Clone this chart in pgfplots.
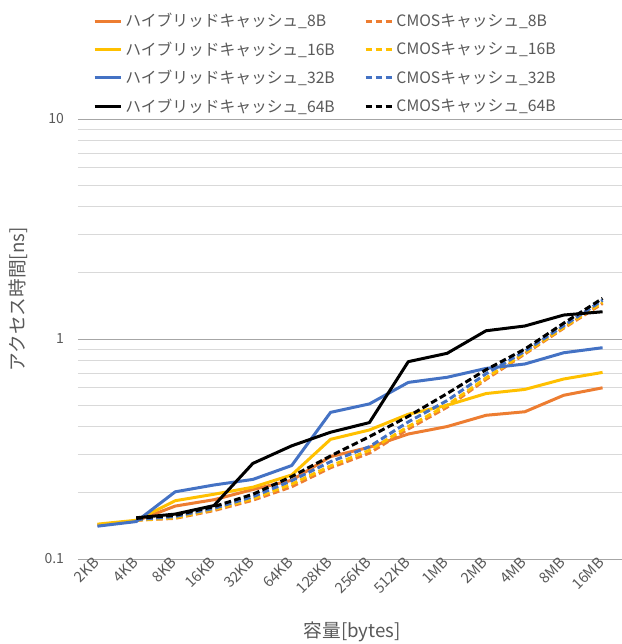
\documentclass[border=0pt]{standalone}
\usepackage{fontspec}
\setmainfont{Noto Sans CJK JP}
\usepackage{pgfplots}
\pgfplotsset{compat=1.18}
\usepackage{pgfplotstable}
\definecolor{cOr}{HTML}{ED7D31}
\definecolor{cYe}{HTML}{FFC000}
\definecolor{cBl}{HTML}{4472C4}
\definecolor{cBk}{HTML}{000000}
\definecolor{txt}{HTML}{595959}
\definecolor{gmaj}{HTML}{A6A6A6}
\definecolor{gmin}{HTML}{D9D9D9}

\pgfplotstableread{
x h8 c8 h16 c16 h32 c32 h64 c64
0 0.143 nan 0.144 nan 0.141 nan nan nan
1 0.149 0.150 0.150 0.150 0.148 0.151 0.154 0.153
2 0.174 0.153 0.184 0.154 0.202 0.156 0.160 0.158
3 0.186 0.166 0.197 0.168 0.217 0.170 0.175 0.173
4 0.207 0.185 0.212 0.188 0.230 0.192 0.272 0.197
5 0.228 0.213 0.241 0.219 0.266 0.227 0.327 0.237
6 0.292 0.260 0.350 0.265 0.464 0.277 0.377 0.294
7 0.322 0.303 0.386 0.312 0.507 0.324 0.417 0.360
8 0.370 0.390 0.455 0.400 0.635 0.420 0.789 0.445
9 0.400 0.490 0.500 0.500 0.670 0.525 0.861 0.565
10 0.450 0.655 0.565 0.665 0.735 0.695 1.090 0.725
11 0.467 0.855 0.590 0.865 0.770 0.880 1.146 0.900
12 0.555 1.120 0.658 1.130 0.866 1.150 1.285 1.180
13 0.600 1.450 0.705 1.470 0.913 1.500 1.330 1.530
}\data

\newcommand{\lw}[1]{\makebox[177pt][l]{#1}}

\begin{document}
\begin{tikzpicture}
\path[use as bounding box] (-58.5pt,-63.75pt) rectangle (408pt,419.25pt);
\begin{axis}[
  scale only axis, width=408pt, height=330pt,
  at={(0,0)}, anchor=south west,
  ymode=log, ymin=0.1, ymax=10,
  xmin=-0.5, xmax=13.5,
  xtick={0,...,13},
  xticklabels={2KB,4KB,8KB,16KB,32KB,64KB,128KB,256KB,512KB,1MB,2MB,4MB,8MB,16MB},
  ytick={0.1,1,10}, yticklabels={0.1,1,10},
  minor ytick={0.2,0.3,0.4,0.5,0.6,0.7,0.8,0.9,2,3,4,5,6,7,8,9},
  ymajorgrids, yminorgrids,
  major grid style={color=gmaj, line width=0.75pt},
  minor grid style={color=gmin, line width=0.75pt},
  axis line style={draw=none},
  major tick style={draw=none}, minor tick style={draw=none},
  xticklabel style={rotate=45, anchor=east, font=\fontsize{11}{13}\selectfont, text=txt, inner sep=1pt},
  yticklabel style={font=\fontsize{10.5}{12}\selectfont, text=txt, xshift=-7pt},
  xlabel={容量[bytes]}, ylabel={アクセス時間[ns]},
  xlabel style={font=\fontsize{14}{16}\selectfont, text=txt, at={(axis description cs:0.504,-0.166)}, anchor=center},
  ylabel style={font=\fontsize{14}{16}\selectfont, text=txt, at={(axis description cs:-0.11,0.59)}, anchor=center, rotate=0},
  legend columns=2,
  legend style={draw=none, fill=none, at={(axis description cs:0.02,1.253)}, anchor=north west,
    font=\fontsize{11.8}{13}\selectfont, text=txt, column sep=0pt, row sep=5.7pt,
    nodes={inner sep=2pt}},
  legend cell align=left,
  legend image code/.code={\draw[#1] (0pt,0pt) -- (20pt,0pt);},
  every axis plot/.append style={line width=2.25pt, line join=round},
  unbounded coords=jump,
]
\addplot[cOr, no markers] table[x=x,y=h8]{\data};
\addlegendentry{\lw{ハイブリッドキャッシュ\_8B}}
\addplot[cOr, no markers, dash pattern=on 5pt off 2.5pt] table[x=x,y=c8]{\data};
\addlegendentry{CMOSキャッシュ\_8B}
\addplot[cYe, no markers] table[x=x,y=h16]{\data};
\addlegendentry{\lw{ハイブリッドキャッシュ\_16B}}
\addplot[cYe, no markers, dash pattern=on 5pt off 2.5pt] table[x=x,y=c16]{\data};
\addlegendentry{CMOSキャッシュ\_16B}
\addplot[cBl, no markers] table[x=x,y=h32]{\data};
\addlegendentry{\lw{ハイブリッドキャッシュ\_32B}}
\addplot[cBl, no markers, dash pattern=on 5pt off 2.5pt] table[x=x,y=c32]{\data};
\addlegendentry{CMOSキャッシュ\_32B}
\addplot[cBk, no markers] table[x=x,y=h64]{\data};
\addlegendentry{\lw{ハイブリッドキャッシュ\_64B}}
\addplot[cBk, no markers, dash pattern=on 5pt off 2.5pt] table[x=x,y=c64]{\data};
\addlegendentry{CMOSキャッシュ\_64B}
\end{axis}
\end{tikzpicture}
\end{document}
